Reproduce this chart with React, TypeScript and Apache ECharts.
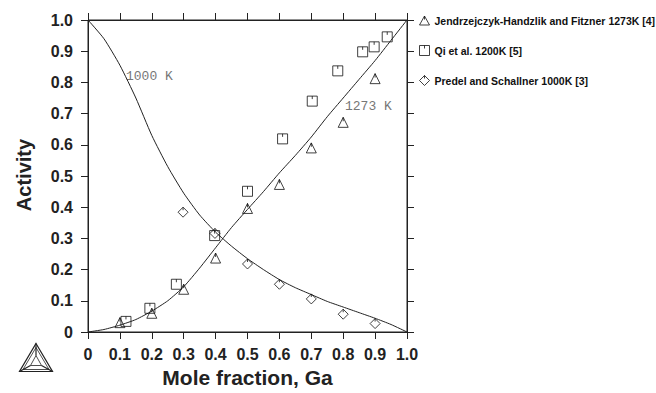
import React, { useEffect, useRef } from "react";
import * as echarts from "echarts";

const curveX = [0, 0.05, 0.1, 0.15, 0.2, 0.25, 0.3, 0.35, 0.4, 0.45, 0.5, 0.55, 0.6, 0.65, 0.7, 0.75, 0.8, 0.85, 0.9, 0.95, 1.0];
const curve1000 = [1.0, 0.94, 0.855, 0.75, 0.63, 0.53, 0.445, 0.375, 0.32, 0.275, 0.235, 0.2, 0.168, 0.142, 0.12, 0.098, 0.08, 0.062, 0.044, 0.024, 0];
const curve1273 = [0, 0.008, 0.022, 0.04, 0.067, 0.1, 0.145, 0.205, 0.27, 0.335, 0.393, 0.45, 0.51, 0.566, 0.625, 0.69, 0.75, 0.81, 0.87, 0.935, 1.0];

const jendX = [0.1, 0.2, 0.3, 0.4, 0.5, 0.6, 0.7, 0.8, 0.9];
const jendY = [0.03, 0.06, 0.137, 0.237, 0.396, 0.473, 0.59, 0.672, 0.812];

const qiX = [0.119, 0.194, 0.277, 0.397, 0.5, 0.61, 0.703, 0.783, 0.861, 0.897, 0.938];
const qiY = [0.034, 0.076, 0.153, 0.309, 0.451, 0.619, 0.74, 0.837, 0.898, 0.914, 0.946];

const predX = [0.298, 0.398, 0.5, 0.6, 0.7, 0.8, 0.9];
const predY = [0.384, 0.316, 0.218, 0.153, 0.106, 0.057, 0.027];

const seriesNames = [
  "Jendrzejczyk-Handzlik and Fitzner 1273K [4]",
  "Qi et al. 1200K [5]",
  "Predel and Schallner 1000K [3]",
];

const xTitle = "Mole fraction, Ga";
const yTitle = "Activity";

const TRI = "path://M5,0 L10,9 L0,9 Z M5,0 L5,3.5";
const SQR = "path://M0,0 L10,0 L10,10 L0,10 Z M5,0 L5,3";
const DIA = "path://M5,0 L10,5 L5,10 L0,5 Z M5,0 L5,3";

const pairs = (xs: number[], ys: number[]) => xs.map((x, i) => [x, ys[i]]);

const FONT = "Liberation Sans, Arial, sans-serif";

export default function App() {
  const ref = useRef<HTMLDivElement>(null);
  useEffect(() => {
    if (!ref.current) return;
    const chart = echarts.init(ref.current, undefined, { renderer: "svg" });
    const axisLine = () => ({ show: true, onZero: false, lineStyle: { color: "#222", width: 1 } });
    const tick = () => ({ show: true, inside: false, length: 7, lineStyle: { color: "#222", width: 1 } });
    const labelFmt = (v: number) => (v === 0 ? "0" : v.toFixed(1));
    const marker = (name: string, sym: string, xs: number[], ys: number[]) => ({
      name,
      type: "scatter",
      symbol: sym,
      symbolSize: [10, 10],
      data: pairs(xs, ys),
      itemStyle: { color: "rgba(0,0,0,0)", borderColor: "#111", borderWidth: 1 },
      z: 5,
    });
    chart.setOption({
      animation: false,
      backgroundColor: "#fff",
      grid: { left: 88, top: 20, width: 319, height: 312, show: true, borderColor: "#222", borderWidth: 1, backgroundColor: "rgba(0,0,0,0)" },
      legend: {
        orient: "vertical",
        left: 417,
        top: 13,
        itemGap: 19,
        itemWidth: 10,
        itemHeight: 10,
        padding: 2,
        itemStyle: { borderWidth: 1 },
        data: seriesNames,
        selectedMode: false,
        textStyle: { fontFamily: FONT, fontWeight: "bold", fontSize: 10.5, color: "#111" },
      },
      xAxis: [
        {
          type: "value", min: 0, max: 1, interval: 0.1, position: "bottom",
          axisLine: axisLine(), axisTick: tick(), splitLine: { show: false },
          axisLabel: { formatter: labelFmt, fontFamily: FONT, fontWeight: "bold", fontSize: 16, color: "#222", margin: 14 },
        },
        {
          type: "value", min: 0, max: 1, interval: 0.1, position: "top",
          axisLine: axisLine(), axisTick: tick(), splitLine: { show: false }, axisLabel: { show: false },
        },
      ],
      yAxis: [
        {
          type: "value", min: 0, max: 1, interval: 0.1, position: "left",
          axisLine: axisLine(), axisTick: tick(), splitLine: { show: false },
          axisLabel: { formatter: labelFmt, fontFamily: FONT, fontWeight: "bold", fontSize: 16, color: "#222", margin: 15 },
        },
        {
          type: "value", min: 0, max: 1, interval: 0.1, position: "right",
          axisLine: axisLine(), axisTick: tick(), splitLine: { show: false }, axisLabel: { show: false },
        },
      ],
      series: [
        {
          name: "1000 K", type: "line", data: pairs(curveX, curve1000), showSymbol: false,
          lineStyle: { color: "#222", width: 1 }, smooth: 0.2, z: 3,
        },
        {
          name: "1273 K", type: "line", data: pairs(curveX, curve1273), showSymbol: false,
          lineStyle: { color: "#222", width: 1 }, smooth: 0.2, z: 3,
        },
        marker(seriesNames[0], TRI, jendX, jendY),
        marker(seriesNames[1], SQR, qiX, qiY),
        marker(seriesNames[2], DIA, predX, predY),
      ],
      graphic: [
        { type: "text", left: 126, top: 70, style: { text: "1000 K", font: "13px 'Liberation Mono', monospace", fill: "#777" } },
        { type: "text", left: 345, top: 100, style: { text: "1273 K", font: "13px 'Liberation Mono', monospace", fill: "#777" } },
        {
          type: "text", x: 247.5, y: 377,
          style: { text: xTitle, font: `bold 21px ${FONT}`, fill: "#222", align: "center", verticalAlign: "middle", textAlign: "center", textVerticalAlign: "middle" },
        },
        {
          type: "text", x: 24, y: 175, rotation: Math.PI / 2,
          style: { text: yTitle, font: `bold 20px ${FONT}`, fill: "#222", align: "center", verticalAlign: "middle", textAlign: "center", textVerticalAlign: "middle" },
        },
        {
          type: "group", left: 17, top: 341,
          children: [
            { type: "polygon", shape: { points: [[16.5, 0], [33, 28], [0, 28]] }, style: { fill: "none", stroke: "#222", lineWidth: 1.2 } },
            { type: "polygon", shape: { points: [[16.5, 4], [29.5, 26], [3.5, 26]] }, style: { fill: "none", stroke: "#222", lineWidth: 0.8 } },
            { type: "polygon", shape: { points: [[16.5, 12], [22, 22], [11, 22]] }, style: { fill: "none", stroke: "#222", lineWidth: 0.8 } },
            { type: "line", shape: { x1: 16.5, y1: 0, x2: 16.5, y2: 12 }, style: { stroke: "#222", lineWidth: 1.2 } },
            { type: "line", shape: { x1: 0, y1: 28, x2: 11, y2: 22 }, style: { stroke: "#222", lineWidth: 1.2 } },
            { type: "line", shape: { x1: 33, y1: 28, x2: 22, y2: 22 }, style: { stroke: "#222", lineWidth: 1.2 } },
          ],
        },
      ],
    });
    return () => chart.dispose();
  }, []);
  return <div ref={ref} style={{ position: "fixed", left: 0, top: 0, width: 656, height: 393 }} />;
}
